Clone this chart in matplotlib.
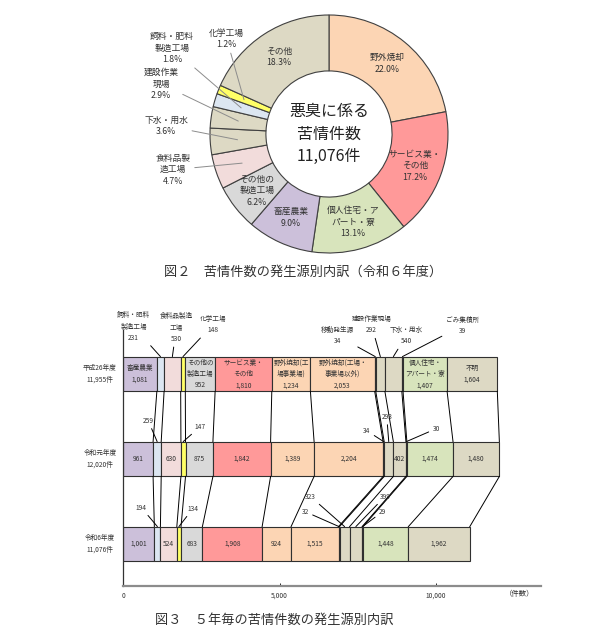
import numpy as np
import matplotlib
matplotlib.use("Agg")
from matplotlib import pyplot as plt

plt.rcParams['font.family'] = ['Noto Sans CJK JP', 'DejaVu Sans']

# ---- 図2 データ（令和6年度）----
pie_labels = ['野外焼却', 'サービス業・\nその他', '個人住宅・ア\nパート・寮', '畜産農業',
              'その他の\n製造工場', '食料品製\n造工場', '下水・用水', '建設作業\n現場',
              '飼料・肥料\n製造工場', '化学工場', 'その他']
pie_pct = [22.0, 17.2, 13.1, 9.0, 6.2, 4.7, 3.6, 2.9, 1.8, 1.2, 18.3]
pie_colors = ['#FCD5B4', '#FF9999', '#D8E4BC', '#CCC0DA', '#D9D9D9', '#F2DCDB',
              '#DDD9C4', '#DDD9C4', '#DCE6F1', '#FFFF66', '#DDD9C4']
pie_total = '11,076'

# ---- 図3 データ ----
categories = ['畜産農業', '飼料・肥料製造工場', '食料品製造工場', '化学工場', 'その他の製造工場',
              'サービス業・その他', '野外焼却(工場事業場)', '野外焼却(工場・事業場以外)',
              '移動発生源', '建設作業現場', '下水・用水', 'ごみ集積所',
              '個人住宅・アパート・寮', '不明']
bar_names = ['畜産農業', '飼料・肥料\n製造工場', '食料品製造\n工場', '化学工場', 'その他の\n製造工場',
             'サービス業・\nその他', '野外焼却(工\n場事業場)', '野外焼却(工場・\n事業場以外)',
             '移動発生源', '建設作業現場', '下水・用水', 'ごみ集積所',
             '個人住宅・\nアパート・寮', '不明']
years = ['平成26年度', '令和元年度', '令和6年度']
vals_h26 = [1081, 231, 530, 148, 952, 1810, 1234, 2053, 34, 292, 540, 39, 1407, 1604]
vals_r1 = [961, 259, 630, 147, 875, 1842, 1389, 2204, 34, 293, 402, 30, 1474, 1480]
vals_r6 = [1001, 194, 524, 134, 683, 1908, 924, 1515, 32, 323, 399, 29, 1448, 1962]
bar_colors = ['#CCC0DA', '#DCE6F1', '#F2DCDB', '#FFFF66', '#D9D9D9', '#FF9999', '#FCD5B4',
              '#FCD5B4', '#DDD9C4', '#DDD9C4', '#DDD9C4', '#DDD9C4', '#D8E4BC', '#DDD9C4']

fig = plt.figure(figsize=(6.09, 6.40), dpi=100)
W, H = 609, 640
FS = 4.8  # 図3の小さい文字

# ================= 図2 =================
R = 119.0
pcx, pcy = 329, 134
axp = fig.add_axes([(pcx - 180) / W, 1 - (pcy + 130) / H, 360 / W, 260 / H])
wedges, _ = axp.pie(pie_pct, colors=pie_colors, startangle=90, counterclock=False,
                    wedgeprops=dict(width=0.47, edgecolor='#404040', linewidth=0.8))
axp.set_xlim(-180 / R, 180 / R)
axp.set_ylim(-130 / R, 130 / R)
axp.set_aspect('equal')
axp.axis('off')

axp.text(0, 0, '悪臭に係る\n苦情件数\n' + pie_total + '件', ha='center', va='center',
         fontsize=11.5, linespacing=1.45, color='#222222')

# 外側ラベル位置（小さい扇形）
outside_pos = {5: (-1.31, -0.30), 6: (-1.37, 0.07), 7: (-1.41, 0.42),
               8: (-1.32, 0.72), 9: (-0.86, 0.80)}
cum = 0.0
for i, (lab, p) in enumerate(zip(pie_labels, pie_pct)):
    mid = np.deg2rad(90 - (cum + p / 2) * 3.6)
    cum += p
    mx, my = 0.77 * np.cos(mid), 0.77 * np.sin(mid)
    txt = f'{lab}\n{p:.1f}%'
    if i in outside_pos:
        axp.annotate(txt, xy=(mx, my), xytext=outside_pos[i], ha='center', va='center',
                     fontsize=6.3, color='#333333', linespacing=1.35,
                     arrowprops=dict(arrowstyle='-', color='#8C8C8C', lw=0.7,
                                     shrinkA=1, shrinkB=0))
    else:
        axp.text(mx, my, txt, ha='center', va='center', fontsize=6.3,
                 color='#333333', linespacing=1.35)

fig.text(303 / W, 1 - 272 / H, '図２　苦情件数の発生源別内訳（令和６年度）',
         ha='center', va='center', fontsize=9.5, color='#333333')

# ================= 図3 =================
ax = fig.add_axes([123 / W, 1 - 586 / H, (541 - 123) / W, (586 - 330) / H])
ax.set_xlim(0, 13350)
ax.set_ylim(-0.494, 2.518)

rows = [vals_h26, vals_r1, vals_r6]
ypos = [2, 1, 0]
bh = 0.41
for vals, y in zip(rows, ypos):
    lefts = np.concatenate([[0], np.cumsum(vals)[:-1]])
    ax.barh(y, vals, left=lefts, height=bh, color=bar_colors,
            edgecolor='#303030', linewidth=0.8)

# 年度間の連結線
for k in range(len(rows) - 1):
    cu = np.concatenate([[0], np.cumsum(rows[k])])
    cl = np.concatenate([[0], np.cumsum(rows[k + 1])])
    for a, b in zip(cu, cl):
        ax.plot([a, b], [ypos[k] - bh / 2, ypos[k + 1] + bh / 2], color='black', lw=0.7)

# バー内のラベル
inner = {0: [0, 4, 5, 6, 7, 12, 13],
         1: [0, 2, 4, 5, 6, 7, 10, 12, 13],
         2: [0, 2, 4, 5, 6, 7, 12, 13]}
for r, (vals, y) in enumerate(zip(rows, ypos)):
    lefts = np.concatenate([[0], np.cumsum(vals)[:-1]])
    for i in inner[r]:
        s = f'{vals[i]:,}'
        if r == 0:
            s = bar_names[i] + '\n' + s
        ax.text(lefts[i] + vals[i] / 2, y, s, ha='center', va='center',
                fontsize=FS, color='#333333', linespacing=1.55)

# バー外のラベル（引き出し線）: (index, dx, dy) in pixels
outer = {0: [(1, -27, 30), (2, 4, 29), (3, 30, 32), (8, -38, 21),
             (9, -9, 32), (10, 13, 21), (11, 60, 31)],
         1: [(1, -9, 21), (3, 17, 15), (8, -17, 11), (9, -2, 25), (11, 30, 13)],
         2: [(1, -16, 19), (3, 14, 18), (8, -34, 15), (9, -34, 30),
             (10, 29, 30), (11, 20, 15)]}
for r, (vals, y) in enumerate(zip(rows, ypos)):
    lefts = np.concatenate([[0], np.cumsum(vals)[:-1]])
    for i, dx, dy in outer[r]:
        s = f'{vals[i]:,}'
        if r == 0:
            s = bar_names[i] + '\n' + s
        ax.annotate(s, xy=(lefts[i] + vals[i] / 2, y + bh / 2), xytext=(dx, dy),
                    textcoords='offset pixels', ha='center', va='center',
                    fontsize=FS, color='#333333', linespacing=1.55, annotation_clip=False,
                    arrowprops=dict(arrowstyle='-', color='black', lw=0.7,
                                    shrinkA=1, shrinkB=0))

# 年度ラベル
for vals, y, name in zip(rows, ypos, years):
    ax.text(-740, y, f'{name}\n{sum(vals):,}件', ha='center', va='center',
            fontsize=FS, color='#333333', linespacing=1.55, clip_on=False)

for s in ['top', 'right']:
    ax.spines[s].set_visible(False)
ax.spines['left'].set_color('#333333')
ax.spines['left'].set_linewidth(0.9)
ax.spines['bottom'].set_color('#8C8C8C')
ax.spines['bottom'].set_linewidth(1.6)
ax.set_yticks([])
ax.set_xticks([0, 5000, 10000])
ax.set_xticklabels(['0', '5,000', '10,000'], fontsize=FS, color='#333333')
ax.tick_params(axis='x', direction='in', length=2, width=0.6, pad=4)
ax.annotate('（件数）', xy=(12680, 0), xycoords=('data', 'axes fraction'),
            xytext=(0, -8), textcoords='offset pixels', ha='center', va='center',
            fontsize=5.3, color='#333333')

fig.text(155 / W, 1 - 620 / H, '図３　５年毎の苦情件数の発生源別内訳',
         ha='left', va='center', fontsize=9.5, color='#333333')

fig.savefig('out.png', dpi=100)
